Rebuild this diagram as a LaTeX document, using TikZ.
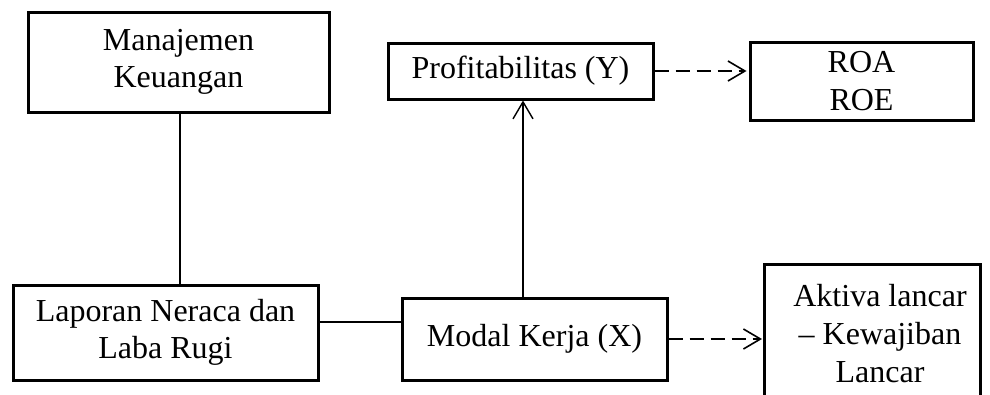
\documentclass[tikz,border=0pt]{standalone}
\usepackage{fontspec}
\setmainfont{Liberation Serif}
\usetikzlibrary{arrows.meta}
\begin{document}
\begin{tikzpicture}[x=1pt,y=-1pt,
  boxnode/.style={draw, line width=3pt, inner sep=0pt, align=center, font=\fontsize{32}{37.5}\selectfont},
  txt/.style={inner sep=0pt, align=center, font=\fontsize{32}{38}\selectfont},
  conn/.style={line width=1.3pt},
  dasharrow/.style={line width=1.6pt, dash pattern=on 14pt off 7pt, shorten >=2pt, -{Straight Barb[length=17pt,width=20pt]}},
  solidarrow/.style={line width=1.4pt, -{Straight Barb[length=17pt,width=20pt]}}]
\useasboundingbox (0,0) rectangle (990,394);
\clip (0,0) rectangle (990,394);
\node[boxnode, minimum width=301pt, minimum height=100pt] (mk) at (178.5,62) {Manajemen\\Keuangan};
\node[boxnode, minimum width=305pt, minimum height=95pt] (lap) at (165.5,332.5) {Laporan Neraca dan\\Laba Rugi};
\node[boxnode, minimum width=265pt, minimum height=56pt] (prof) at (520.5,71) {Profitabilitas (Y)};
\node[boxnode, minimum width=223pt, minimum height=78pt] (roa) at (861.5,81) {ROA\\ROE};
\node[boxnode, minimum width=265pt, minimum height=82pt] (mod) at (534.5,339) {Modal Kerja (X)};
\node[txt] (akt) at (880,334) {Aktiva lancar\\– Kewajiban\\Lancar};
\coordinate (aktTL) at (764,264);
\coordinate (aktTR) at (980,264);
\coordinate (aktBL) at (764,420);
\coordinate (aktBR) at (980,420);
\draw[line width=3pt] (aktBL) -- (aktTL) -- (aktTR) -- (aktBR);
\coordinate (v1) at (180,0);
\draw[conn] (v1 |- mk.south) -- (v1 |- lap.north);
\coordinate (h1) at (0,322);
\draw[conn] (h1 -| lap.east) -- (h1 -| mod.west);
\coordinate (v2) at (523,0);
\draw[solidarrow] (v2 |- mod.north) -- (v2 |- prof.south);
\draw[dasharrow] (prof.east) -- (prof.east -| roa.west);
\draw[dasharrow] (mod.east) -- (mod.east -| aktTL);
\end{tikzpicture}
\end{document}
